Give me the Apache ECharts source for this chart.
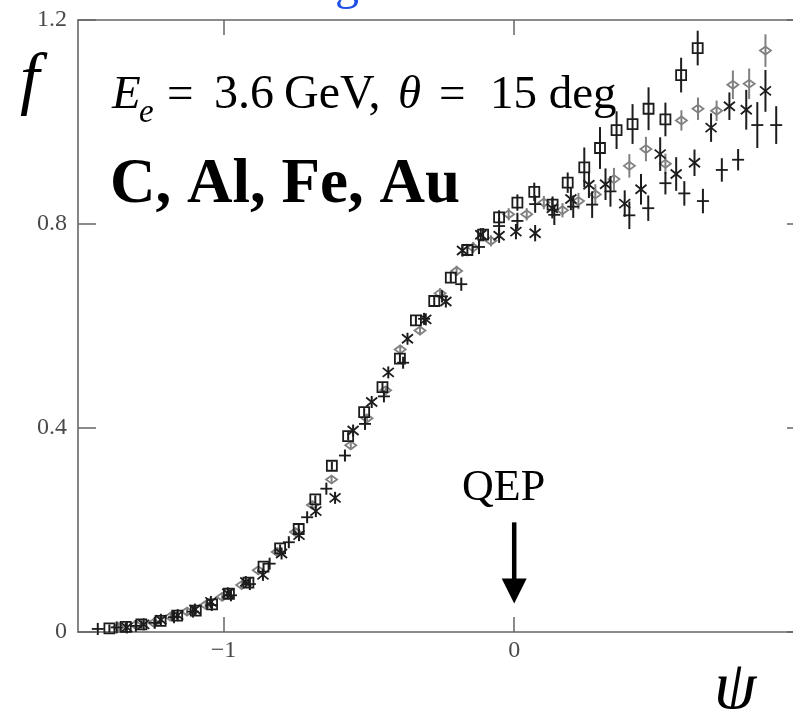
<!DOCTYPE html>
<html>
<head>
<meta charset="utf-8">
<script src="https://cdn.jsdelivr.net/npm/echarts@6/dist/echarts.min.js"></script>
<style>
  html, body { margin: 0; padding: 0; background: #fff; }
  #chart { width: 793px; height: 709px; }
</style>
</head>
<body>
<div id="chart"></div>
<script>
// Scaling function f(psi) for C, Al, Fe, Au at E_e = 3.6 GeV, theta = 15 deg

// --- open squares ---
const psiSquare = [-1.392,-1.336,-1.282,-1.216,-1.159,-1.095,-1.039,-0.981,-0.914,-0.862,-0.805,-0.741,-0.684,-0.627,-0.571,-0.516,-0.453,-0.393,-0.338,-0.275,-0.218,-0.161,-0.107,-0.052,0.011,0.069,0.132,0.184,0.241,0.295,0.352,0.407,0.462,0.520,0.574,0.631];
const fSquare   = [0.007,0.010,0.015,0.022,0.032,0.042,0.054,0.075,0.097,0.128,0.164,0.202,0.260,0.326,0.384,0.431,0.480,0.536,0.611,0.649,0.695,0.749,0.779,0.813,0.842,0.863,0.838,0.881,0.911,0.949,0.984,0.996,1.026,1.005,1.092,1.145];
const errSquare = [0.004,0.004,0.004,0.004,0.005,0.005,0.005,0.005,0.006,0.006,0.006,0.007,0.007,0.008,0.008,0.008,0.009,0.009,0.010,0.010,0.011,0.012,0.013,0.014,0.016,0.018,0.016,0.020,0.039,0.041,0.037,0.039,0.042,0.033,0.034,0.034];

// --- grey diamonds ---
const psiDiamond = [-1.360,-1.302,-1.239,-1.182,-1.125,-1.061,-1.004,-0.937,-0.880,-0.815,-0.752,-0.694,-0.628,-0.562,-0.506,-0.442,-0.392,-0.324,-0.255,-0.198,-0.141,-0.080,-0.019,0.043,0.102,0.166,0.221,0.279,0.343,0.396,0.453,0.520,0.575,0.632,0.696,0.752,0.808,0.864];
const fDiamond   = [0.010,0.014,0.018,0.030,0.040,0.053,0.069,0.092,0.121,0.157,0.196,0.249,0.299,0.366,0.419,0.474,0.554,0.591,0.664,0.708,0.754,0.767,0.819,0.819,0.842,0.827,0.845,0.858,0.888,0.914,0.947,0.918,1.003,1.026,1.022,1.073,1.075,1.140];
const errDiamond = [0.004,0.004,0.004,0.004,0.005,0.005,0.005,0.005,0.006,0.006,0.006,0.007,0.007,0.008,0.008,0.008,0.009,0.009,0.010,0.010,0.011,0.011,0.012,0.012,0.013,0.014,0.016,0.020,0.022,0.023,0.024,0.020,0.020,0.022,0.020,0.028,0.030,0.032];

// --- asterisks ---
const psiStar = [-1.332,-1.274,-1.215,-1.157,-1.098,-1.043,-0.985,-0.923,-0.864,-0.800,-0.740,-0.682,-0.616,-0.554,-0.490,-0.433,-0.367,-0.304,-0.235,-0.178,-0.115,-0.052,0.006,0.072,0.131,0.195,0.257,0.314,0.380,0.436,0.502,0.557,0.620,0.677,0.740,0.798,0.864];
const fStar   = [0.009,0.015,0.024,0.033,0.044,0.059,0.076,0.098,0.112,0.154,0.190,0.237,0.263,0.395,0.451,0.509,0.575,0.613,0.648,0.748,0.779,0.777,0.785,0.782,0.831,0.849,0.877,0.878,0.840,0.868,0.937,0.898,0.920,0.989,1.031,1.024,1.061];
const errStar = [0.004,0.004,0.004,0.004,0.005,0.005,0.005,0.006,0.006,0.006,0.007,0.007,0.008,0.008,0.009,0.009,0.010,0.010,0.011,0.012,0.013,0.014,0.015,0.016,0.020,0.022,0.026,0.031,0.026,0.030,0.033,0.033,0.026,0.028,0.027,0.039,0.041];

// --- plus signs ---
const psiPlus = [-1.432,-1.367,-1.301,-1.236,-1.170,-1.105,-1.040,-0.974,-0.909,-0.841,-0.775,-0.712,-0.646,-0.582,-0.513,-0.448,-0.382,-0.310,-0.248,-0.182,-0.121,-0.052,0.011,0.072,0.138,0.203,0.268,0.331,0.396,0.461,0.520,0.585,0.649,0.714,0.770,0.836,0.901];
const fPlus   = [0.006,0.009,0.012,0.018,0.029,0.040,0.053,0.072,0.094,0.134,0.176,0.225,0.281,0.346,0.408,0.462,0.528,0.614,0.658,0.682,0.755,0.796,0.806,0.839,0.818,0.834,0.838,0.864,0.817,0.831,0.880,0.860,0.845,0.906,0.926,0.994,0.994];
const errPlus = [0.004,0.004,0.004,0.004,0.005,0.005,0.005,0.006,0.006,0.006,0.007,0.007,0.008,0.008,0.009,0.009,0.010,0.011,0.012,0.013,0.014,0.015,0.016,0.017,0.020,0.022,0.026,0.030,0.027,0.025,0.022,0.024,0.024,0.023,0.021,0.045,0.037];

// --- axes ---
const xRange = [-1.5, 1.0];
const yRange = [0, 1.2];
const xTicks = [-1, 0];
const yTicks = [0, 0.4, 0.8, 1.2];

// QEP marker: psi position and the f span of the arrow (top, tip)
const qepArrow = [[0, 0.215, 0.056]];

const SERIF = '"Liberation Serif", "DejaVu Serif", serif';
const INK = '#1c1c1c';
const GREY = '#808080';
const AXIS = '#666666';

function pack(xs, ys, es) {
  return xs.map((x, i) => [x, ys[i], es[i]]);
}

function markerSeries(name, data, kind, color, z) {
  return {
    type: 'custom',
    name: name,
    data: data,
    z: z,
    silent: true,
    clip: false,
    renderItem: function (params, api) {
      const x = api.value(0), y = api.value(1), e = api.value(2);
      const p = api.coord([x, y]);
      const hi = api.coord([x, y + e])[1];
      const lo = api.coord([x, y - e])[1];
      const minHalf = (kind === 'plus' || kind === 'star') ? 6 : 4;
      const y1 = Math.min(hi, p[1] - minHalf);
      const y2 = Math.max(lo, p[1] + minHalf);
      const lw = 1.8;
      const children = [{
        type: 'line',
        shape: { x1: p[0], y1: y1, x2: p[0], y2: y2 },
        style: { stroke: color, lineWidth: 2 }
      }];
      if (kind === 'square') {
        children.push({
          type: 'rect',
          shape: { x: p[0] - 5, y: p[1] - 5, width: 10, height: 10 },
          style: { fill: 'none', stroke: color, lineWidth: lw }
        });
      } else if (kind === 'diamond') {
        children.push({
          type: 'polygon',
          shape: { points: [[p[0] - 5.5, p[1]], [p[0], p[1] - 4], [p[0] + 5.5, p[1]], [p[0], p[1] + 4]] },
          style: { fill: 'none', stroke: color, lineWidth: lw }
        });
      } else if (kind === 'star') {
        children.push({
          type: 'line',
          shape: { x1: p[0] - 5.5, y1: p[1] - 4.5, x2: p[0] + 5.5, y2: p[1] + 4.5 },
          style: { stroke: color, lineWidth: lw }
        });
        children.push({
          type: 'line',
          shape: { x1: p[0] - 5.5, y1: p[1] + 4.5, x2: p[0] + 5.5, y2: p[1] - 4.5 },
          style: { stroke: color, lineWidth: lw }
        });
      } else if (kind === 'plus') {
        children.push({
          type: 'line',
          shape: { x1: p[0] - 6, y1: p[1], x2: p[0] + 6, y2: p[1] },
          style: { stroke: color, lineWidth: lw }
        });
      }
      return { type: 'group', children: children };
    }
  };
}

const arrowSeries = {
  type: 'custom',
  name: 'QEP',
  data: qepArrow,
  silent: true,
  clip: false,
  z: 10,
  renderItem: function (params, api) {
    const x = api.value(0);
    const top = api.coord([x, api.value(1)]);
    const tip = api.coord([x, api.value(2)]);
    const headH = 25, headW = 12.5;
    return {
      type: 'group',
      children: [
        { type: 'line', shape: { x1: top[0], y1: top[1], x2: tip[0], y2: tip[1] - headH + 2 },
          style: { stroke: '#000', lineWidth: 4.5 } },
        { type: 'polygon', shape: { points: [[tip[0] - headW, tip[1] - headH], [tip[0] + headW, tip[1] - headH], [tip[0], tip[1]]] },
          style: { fill: '#000' } }
      ]
    };
  }
};

const axisLineStyle = { show: true, onZero: false, lineStyle: { color: AXIS, width: 1.6 } };
const tickStyle = { color: AXIS, width: 1.5 };
const labelStyle = { color: '#4a4a4a', fontFamily: SERIF, fontSize: 24 };
const fmt = v => (v < 0 ? '\u2212' + Math.abs(v) : String(v));

const chart = echarts.init(document.getElementById('chart'), null, { renderer: 'canvas' });

chart.setOption({
  animation: false,
  backgroundColor: '#fff',
  grid: { left: 78, top: 20, width: 727, height: 612, outerBoundsMode: 'none', containLabel: false },
  xAxis: [
    {
      type: 'value', position: 'bottom', min: xRange[0], max: xRange[1],
      axisLine: axisLineStyle,
      axisTick: { show: true, inside: true, length: 15, customValues: xTicks, lineStyle: tickStyle },
      axisLabel: Object.assign({ show: true, margin: 7, customValues: xTicks, formatter: fmt }, labelStyle),
      splitLine: { show: false }
    },
    {
      type: 'value', position: 'top', min: xRange[0], max: xRange[1],
      axisLine: axisLineStyle,
      axisTick: { show: true, inside: true, length: 15, customValues: xTicks, lineStyle: tickStyle },
      axisLabel: { show: false },
      splitLine: { show: false }
    }
  ],
  yAxis: [
    {
      type: 'value', position: 'left', min: yRange[0], max: yRange[1], interval: 0.4,
      axisLine: axisLineStyle,
      axisTick: { show: true, inside: true, length: 18, customValues: yTicks, lineStyle: tickStyle },
      axisLabel: Object.assign({ show: true, margin: 11, customValues: yTicks, formatter: v => String(Math.round(v * 10) / 10) }, labelStyle),
      splitLine: { show: false }
    },
    {
      type: 'value', position: 'right', min: yRange[0], max: yRange[1], interval: 0.4,
      axisLine: axisLineStyle,
      axisTick: { show: true, inside: true, length: 18, customValues: yTicks, lineStyle: tickStyle },
      axisLabel: { show: false },
      splitLine: { show: false }
    }
  ],
  series: [
    markerSeries('diamond', pack(psiDiamond, fDiamond, errDiamond), 'diamond', GREY, 2),
    markerSeries('plus', pack(psiPlus, fPlus, errPlus), 'plus', INK, 3),
    markerSeries('star', pack(psiStar, fStar, errStar), 'star', INK, 4),
    markerSeries('square', pack(psiSquare, fSquare, errSquare), 'square', INK, 5),
    arrowSeries
  ],
  graphic: [
    { type: 'text', left: 335, top: -38, silent: true,
      style: { text: 'g', font: '48px ' + SERIF, fill: '#1f4fe6' } },
    { type: 'text', x: 20, y: 48, silent: true,
      style: { text: 'f', font: 'italic 70px ' + SERIF, fill: '#000', verticalAlign: 'top' } },
    { type: 'text', x: 112, y: 72, silent: true,
      style: { text: 'E', font: 'italic 47px ' + SERIF, fill: '#000', verticalAlign: 'top' } },
    { type: 'text', x: 139, y: 97, silent: true,
      style: { text: 'e', font: 'italic 33px ' + SERIF, fill: '#000', verticalAlign: 'top' } },
    { type: 'text', x: 167, y: 72, silent: true,
      style: { text: '=', font: '47px ' + SERIF, fill: '#000', verticalAlign: 'top' } },
    { type: 'text', x: 214, y: 71, silent: true,
      style: { text: '3.6', font: '48px ' + SERIF, fill: '#000', verticalAlign: 'top' } },
    { type: 'text', x: 284, y: 71, silent: true,
      style: { text: 'GeV,', font: '48px ' + SERIF, fill: '#000', verticalAlign: 'top' } },
    { type: 'text', x: 398, y: 72, silent: true,
      style: { text: '\u03b8', font: 'italic 47px ' + SERIF, fill: '#000', verticalAlign: 'top' } },
    { type: 'text', x: 439, y: 72, silent: true,
      style: { text: '=', font: '47px ' + SERIF, fill: '#000', verticalAlign: 'top' } },
    { type: 'text', x: 490, y: 72, silent: true,
      style: { text: '15 deg', font: '47px ' + SERIF, fill: '#000', verticalAlign: 'top' } },
    { type: 'text', x: 110, y: 154, silent: true,
      style: { text: 'C, Al, Fe, Au', font: 'bold 63px ' + SERIF, fill: '#000', verticalAlign: 'top' } },
    { type: 'text', x: 462, y: 466, silent: true,
      style: { text: 'QEP', font: '44px ' + SERIF, fill: '#000', verticalAlign: 'top' } },
    { type: 'text', x: 714, y: 656, silent: true,
      style: { text: '\u03c8', font: 'italic 68px ' + SERIF, fill: '#000', verticalAlign: 'top' } }
  ]
});
</script>
</body>
</html>
